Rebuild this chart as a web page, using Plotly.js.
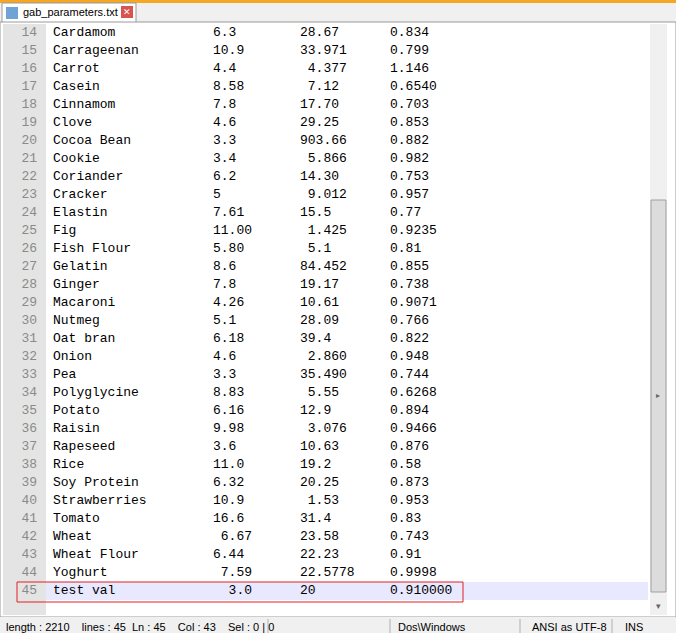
<!DOCTYPE html>
<html>
<head>
<meta charset="utf-8">
<script src="https://cdn.plot.ly/plotly-3.0.1.min.js"></script>
<style>body{margin:0;padding:0;background:#fff}#view{width:676px;height:633px}</style>
</head>
<body>
<div id="view"></div>
<script>
// file contents, one entry per line (14..45)
var lineNumbers = [14,15,16,17,18,19,20,21,22,23,24,25,26,27,28,29,30,31,32,33,34,35,36,37,38,39,40,41,42,43,44,45];
var names = ['Cardamom','Carrageenan','Carrot','Casein','Cinnamom','Clove','Cocoa Bean','Cookie','Coriander','Cracker',
  'Elastin','Fig','Fish Flour','Gelatin','Ginger','Macaroni','Nutmeg','Oat bran','Onion','Pea',
  'Polyglycine','Potato','Raisin','Rapeseed','Rice','Soy Protein','Strawberries','Tomato','Wheat','Wheat Flour','Yoghurt','test val'];
var col2 = ['6.3','10.9','4.4','8.58','7.8','4.6','3.3','3.4','6.2','5',
  '7.61','11.00','5.80','8.6','7.8','4.26','5.1','6.18','4.6','3.3',
  '8.83','6.16','9.98','3.6','11.0','6.32','10.9','16.6',' 6.67','6.44',' 7.59','  3.0'];
var col3 = ['28.67','33.971',' 4.377',' 7.12','17.70','29.25','903.66',' 5.866','14.30',' 9.012',
  '15.5',' 1.425',' 5.1','84.452','19.17','10.61','28.09','39.4',' 2.860','35.490',
  ' 5.55','12.9',' 3.076','10.63','19.2','20.25',' 1.53','31.4','23.58','22.23','22.5778','20'];
var col4 = ['0.834','0.799','1.146','0.6540','0.703','0.853','0.882','0.982','0.753','0.957',
  '0.77','0.9235','0.81','0.855','0.738','0.9071','0.766','0.822','0.948','0.744',
  '0.6268','0.894','0.9466','0.876','0.58','0.873','0.953','0.83','0.743','0.91','0.9998','0.910000'];

var nb = function (s) { return s.replace(/ /g, '\u00a0'); };
var rowY = lineNumbers.map(function (n) { return 33 + (n - 14) * 18; });
var mono = {family: 'Liberation Mono, Courier New, monospace', size: 13, color: '#000'};

function column(x, texts, pos, font) {
  return {
    x: texts.map(function () { return x; }), y: rowY,
    text: texts.map(nb), mode: 'text', textposition: pos,
    textfont: font || mono, hoverinfo: 'skip', showlegend: false, cliponaxis: false
  };
}

var data = [
  column(37, lineNumbers.map(String), 'middle left', {family: 'Liberation Mono, monospace', size: 13, color: '#8a8a8a'}),
  column(53, names, 'middle right'),
  column(213, col2, 'middle right'),
  column(300, col3, 'middle right'),
  column(390, col4, 'middle right')
];

var R = function (x0, y0, x1, y1, fill, line) {
  return {type: 'rect', xref: 'x', yref: 'y', x0: x0, y0: y0, x1: x1, y1: y1,
    fillcolor: fill, line: line || {width: 0}, layer: 'below'};
};

var shapes = [
  R(0, 0, 676, 22, '#f0f0f0'),
  R(0, 0, 676, 3, '#f5a623'),
  R(2, 3, 136, 23, '#ffffff', {color: '#9a9a9a', width: 1}),
  R(121, 6, 133, 18, '#d9534f'),
  R(6, 7, 18, 19, '#6fa3d6'),
  R(0, 22, 676, 617, '#ffffff', {color: '#9a9a9a', width: 1}),
  R(3, 24, 46, 615, '#e4e4e4'),
  R(46, 582, 648, 600, '#e8e8ff'),
  R(650, 24, 667, 615, '#f0f0f0'),
  R(651, 200, 666, 592, '#dcdcdc', {color: '#a0a0a0', width: 1}),
  R(0, 617, 676, 633, '#f0f0f0'),
  {type: 'rect', xref: 'x', yref: 'y', x0: 17, y0: 582, x1: 463, y1: 602, line: {color: '#e02020', width: 1}, layer: 'above'}
];
[268, 390, 520, 612].forEach(function (x) {
  shapes.push({type: 'line', xref: 'x', yref: 'y', x0: x, x1: x, y0: 619, y1: 633, line: {color: '#b0b0b0', width: 1}});
});

var ui = {family: 'Liberation Sans, Arial, sans-serif', size: 11, color: '#000'};
var ann = function (x, y, t, f, anchor) {
  return {x: x, y: y, xref: 'x', yref: 'y', text: t, showarrow: false, xanchor: anchor || 'left', font: f || ui};
};
var annotations = [
  ann(21, 12, 'gab_parameters.txt', {family: 'Liberation Sans Narrow, Liberation Sans, Arial', size: 11, color: '#000'}),
  ann(127, 12, '✕', {family: 'DejaVu Sans', size: 9, color: '#fff'}, 'center'),
  ann(658, 395, '▸', {family: 'DejaVu Sans', size: 8, color: '#666'}, 'center'),
  ann(658, 606, '▾', {family: 'DejaVu Sans', size: 9, color: '#666'}, 'center'),
  ann(4, 627, 'length : 2210&nbsp;&nbsp;&nbsp;&nbsp;lines : 45&nbsp;&nbsp;Ln : 45&nbsp;&nbsp;&nbsp;&nbsp;Col : 43&nbsp;&nbsp;&nbsp;&nbsp;Sel : 0 | 0'),
  ann(396, 627, 'Dos\\Windows'),
  ann(530, 627, 'ANSI as UTF-8'),
  ann(623, 627, 'INS')
];

var layout = {
  width: 676, height: 633,
  margin: {l: 0, r: 0, t: 0, b: 0},
  paper_bgcolor: '#ffffff', plot_bgcolor: '#ffffff',
  xaxis: {range: [0, 676], visible: false, fixedrange: true},
  yaxis: {range: [633, 0], visible: false, fixedrange: true},
  shapes: shapes, annotations: annotations
};

Plotly.newPlot('view', data, layout, {staticPlot: true, displayModeBar: false});
</script>
</body>
</html>
